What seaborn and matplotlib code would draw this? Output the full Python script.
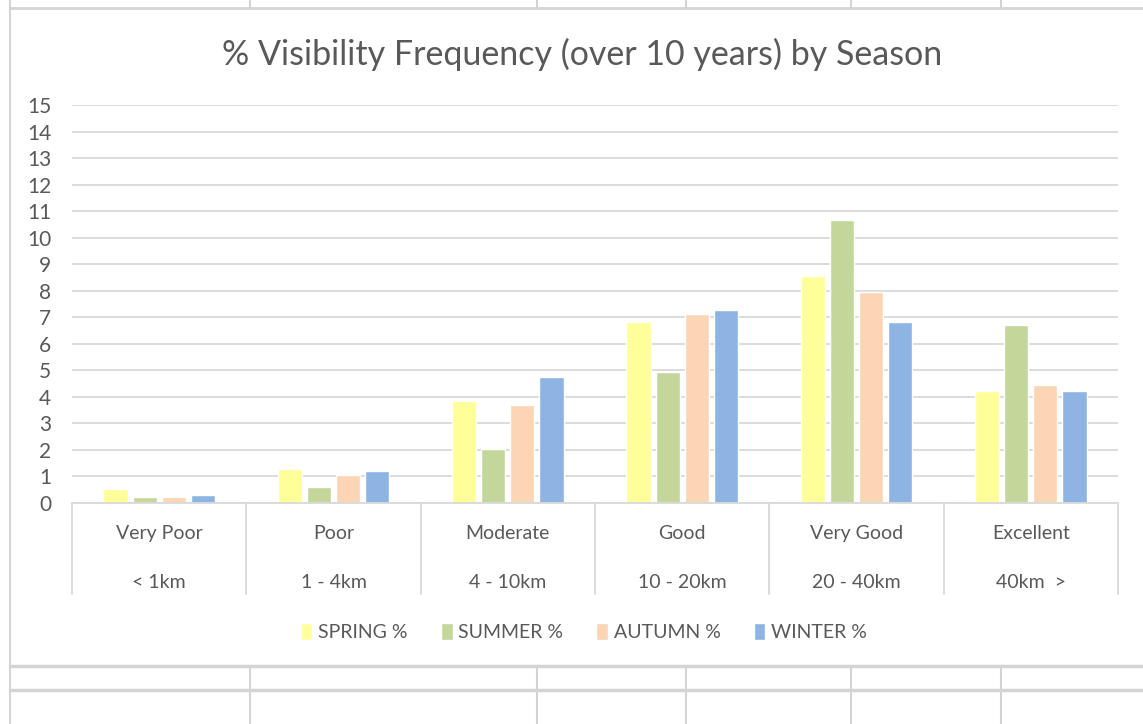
import pandas as pd
import matplotlib.pyplot as plt
import seaborn as sns
from matplotlib.lines import Line2D

# Data
ratings = ['Very Poor', 'Poor', 'Moderate', 'Good', 'Very Good', 'Excellent']
ranges = ['< 1km', '1 - 4km', '4 - 10km', '10 - 20km', '20 - 40km', '40km  >']
seasons = ['SPRING %', 'SUMMER %', 'AUTUMN %', 'WINTER %']
spring = [0.52, 1.27, 3.85, 6.82, 8.56, 4.22]
summer = [0.22, 0.62, 2.03, 4.94, 10.67, 6.72]
autumn = [0.22, 1.05, 3.70, 7.12, 7.95, 4.45]
winter = [0.30, 1.22, 4.75, 7.27, 6.82, 4.22]
colors = ['#FFFF99', '#C4D79B', '#FCD5B4', '#8DB4E2']

data = pd.DataFrame({
    'Rating': ratings * 4,
    'Season': [s for s in seasons for _ in ratings],
    'Value': spring + summer + autumn + winter,
})

sns.set_style('white')
plt.rcParams['font.family'] = ['Lato', 'DejaVu Sans']
text_col = '#595959'
grid_col = '#D9D9D9'

fig = plt.figure(figsize=(11.43, 7.24), dpi=100)
W, H = 1143, 724
ax = fig.add_axes([72 / W, 1 - 503 / H, (1118 - 72) / W, (503 - 105) / H])

sns.barplot(data=data, x='Rating', y='Value', hue='Season', order=ratings,
            hue_order=seasons, palette=colors, width=0.667, gap=0.17,
            saturation=1, ax=ax)

ax.set_ylim(0, 15)
ax.set_xlim(-0.5, len(ratings) - 0.5)
ax.set_yticks(range(0, 16))
ax.yaxis.grid(True, color=grid_col, linewidth=1.3)
ax.set_axisbelow(True)
ax.tick_params(axis='y', length=0, labelsize=15, labelcolor=text_col, pad=15)
ax.set_xticks([])
ax.set_xlabel('')
ax.set_ylabel('')
for s in ['top', 'right', 'left']:
    ax.spines[s].set_visible(False)
ax.spines['bottom'].set_color(grid_col)
ax.spines['bottom'].set_linewidth(1.3)

# two-level category axis
trans = ax.get_xaxis_transform()
for i in range(len(ratings) + 1):
    ax.plot([i - 0.5, i - 0.5], [0, -0.228], transform=trans, color=grid_col,
            linewidth=1.3, clip_on=False)
for i, (r, d) in enumerate(zip(ratings, ranges)):
    ax.text(i, -0.077, r, transform=trans, ha='center', va='center',
            fontsize=14, color=text_col)
    ax.text(i, -0.2, d, transform=trans, ha='center', va='center',
            fontsize=14, color=text_col)

fig.text(582 / W, 1 - 54 / H, '% Visibility Frequency (over 10 years) by Season',
         ha='center', va='center', fontsize=24.5, color=text_col)

handles, labels = ax.get_legend_handles_labels()
ax.legend_.remove()
fig.legend(handles, labels, loc='center', bbox_to_anchor=(584 / W, 1 - 632 / H),
           ncol=4, frameon=False, fontsize=14, labelcolor=text_col,
           handlelength=0.6, handleheight=1.0, handletextpad=0.3,
           columnspacing=1.7)

# chart frame and surrounding spreadsheet cells
cell_col = '#D4D4D4'
def fline(x0, y0, x1, y1, lw=1.5):
    fig.add_artist(Line2D([x0 / W, x1 / W], [1 - y0 / H, 1 - y1 / H],
                          color=cell_col, linewidth=lw))

fline(10, 0, 10, H)
fline(10, 8, W, 8, 2)
fline(10, 666, W, 666, 2.5)
fline(10, 690, W, 690, 2.5)
for x in [250, 537, 686, 851, 1001]:
    fline(x, 0, x, 8)
    fline(x, 666, x, H)

fig.savefig('out.png', dpi=100)
